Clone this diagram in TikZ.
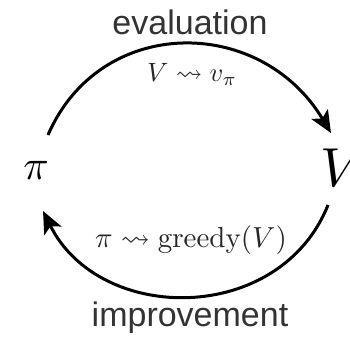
\documentclass[tikz,border=0pt]{standalone}
\usepackage{amssymb}
\usepackage{fontspec}
\newfontfamily\labelfont{Liberation Sans}
\usetikzlibrary{arrows.meta}
\begin{document}
\begin{tikzpicture}[x=1pt,y=-1pt,
  cyc/.style={line width=3pt,-{Stealth[length=22pt,width=19pt,inset=5pt]}},
  word/.style={font=\labelfont\fontsize{34}{38}\selectfont,text=black!80,inner sep=0pt},
  mathlbl/.style={text=black!85,inner sep=0pt},
  big/.style={inner sep=0pt}]
\useasboundingbox (0,0) rectangle (350,338);
\node[word] (eval) at (190,22) {evaluation};
\node[word] (impr) at (190,318) {improvement};
\node[mathlbl] (vl) at (192,74) {\scalebox{2.65}{$V \rightsquigarrow v_\pi$}};
\node[mathlbl] (gl) at (191,240) {\scalebox{2.9}{$\pi \rightsquigarrow \mathrm{greedy}(V)$}};
\node[big] (pi) at (36,170) {\scalebox{4.2}{$\pi$}};
\node[big,anchor=west] (V) at (320,168) {\scalebox{5.5}{$V$}};
\coordinate (a0) at (48,135);
\coordinate (a1) at (331,133);
\coordinate (b0) at (328,205);
\coordinate (b1) at (43,211);
\draw[cyc] (a0) .. controls (100,15) and (260,15) .. (a1);
\draw[cyc] (b0) .. controls (280,325) and (100,325) .. (b1);
\end{tikzpicture}
\end{document}
